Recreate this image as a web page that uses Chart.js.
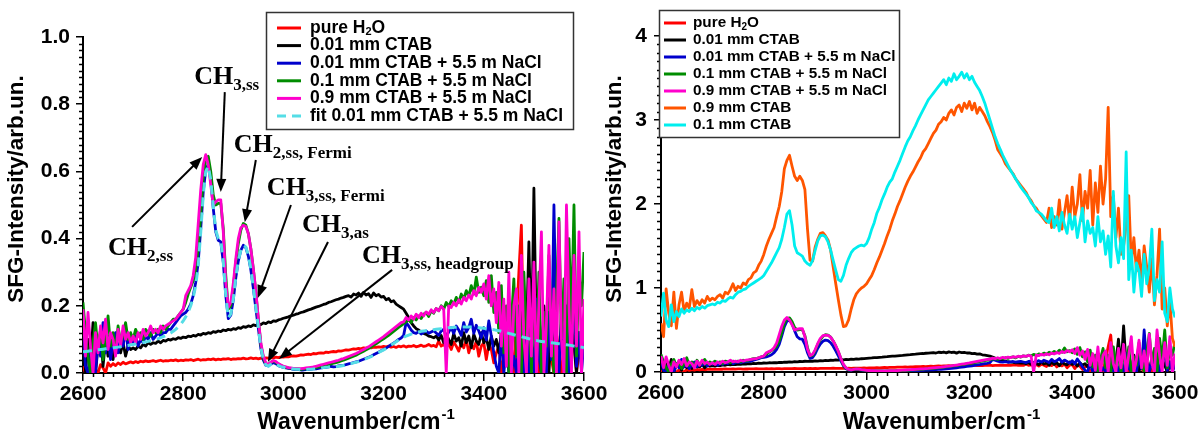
<!DOCTYPE html>
<html><head><meta charset="utf-8">
<script src="https://cdn.jsdelivr.net/npm/chart.js@4/dist/chart.umd.min.js"></script>
<style>
html,body{margin:0;padding:0;background:#fff;width:1202px;height:432px;overflow:hidden;}
#wrapL{position:absolute;left:0;top:0;width:640px;height:432px;}
#wrapR{position:absolute;left:600px;top:0;width:602px;height:432px;}
</style></head><body>
<div id="wrapL"><canvas id="cL" width="640" height="432"></canvas></div>
<div id="wrapR"><canvas id="cR" width="602" height="432"></canvas></div>
<script>
// x grid: wavenumber in cm^-1, step 5
const wavenumbers = [];
for (let w = 2600; w <= 3600; w += 5) wavenumbers.push(w);

const pureH2O = [
0.02,0.0,0.0,0.03,0.0,0.01,0.0,0.025,0.015,0.0,0.03,0.02,0.028,0.022,0.03,0.025,0.032,0.027,0.03,0.033,
0.03,0.034,0.031,0.035,0.033,0.036,0.034,0.035,0.037,0.034,0.036,0.038,0.035,0.037,0.036,0.038,0.037,0.039,0.036,0.038,
0.037,0.039,0.038,0.04,0.037,0.039,0.041,0.038,0.04,0.039,0.041,0.04,0.042,0.039,0.041,0.04,0.042,0.041,0.043,0.04,
0.042,0.041,0.043,0.042,0.044,0.042,0.043,0.045,0.043,0.044,0.042,0.044,0.043,0.045,0.044,0.046,0.045,0.047,0.046,0.048,
0.047,0.049,0.048,0.05,0.051,0.05,0.052,0.054,0.053,0.055,0.056,0.055,0.058,0.057,0.059,0.06,0.059,0.062,0.061,0.063,
0.064,0.063,0.066,0.065,0.067,0.069,0.068,0.07,0.072,0.071,0.073,0.072,0.075,0.074,0.076,0.075,0.077,0.076,0.078,0.077,
0.079,0.078,0.08,0.077,0.079,0.076,0.08,0.078,0.081,0.077,0.08,0.079,0.082,0.078,0.08,0.083,0.079,0.081,0.085,0.08,
0.082,0.078,0.095,0.08,0.085,0.075,0.088,0.07,0.092,0.08,0.065,0.09,0.075,0.1,0.06,0.085,0.072,0.095,0.05,0.08,
0.09,0.04,0.085,0.07,0.03,0.06,0.08,0.0,0.05,0.10,0.02,0.08,0.0,0.15,0.30,0.44,0.05,0.10,0.0,0.08,
0.05,0.12,0.0,0.06,0.10,0.0,0.08,0.04,0.0,0.12,0.05,0.0,0.09,0.03,0.0,0.07,0.11,0.0,0.06,0.04,
0.05];

const ctab001 = [
0.16,0.0,0.10,0.03,0.15,0.0,0.08,0.12,0.02,0.10,0.05,0.09,0.04,0.11,0.07,0.06,0.09,0.05,0.08,0.07,
0.075,0.07,0.08,0.075,0.085,0.08,0.09,0.085,0.09,0.088,0.095,0.09,0.097,0.095,0.10,0.098,0.102,0.10,0.105,0.103,
0.107,0.105,0.11,0.108,0.112,0.11,0.115,0.113,0.118,0.116,0.12,0.118,0.123,0.121,0.125,0.123,0.128,0.126,0.13,0.128,
0.132,0.13,0.135,0.133,0.138,0.136,0.14,0.138,0.143,0.141,0.146,0.144,0.149,0.147,0.152,0.15,0.155,0.154,0.158,0.16,
0.163,0.165,0.167,0.17,0.172,0.175,0.177,0.18,0.182,0.185,0.188,0.19,0.193,0.196,0.198,0.201,0.204,0.206,0.21,0.212,
0.215,0.218,0.22,0.223,0.225,0.228,0.23,0.226,0.235,0.232,0.238,0.228,0.24,0.232,0.236,0.225,0.238,0.23,0.234,0.226,
0.228,0.218,0.222,0.212,0.215,0.205,0.2,0.195,0.19,0.178,0.165,0.15,0.14,0.132,0.128,0.122,0.118,0.115,0.11,0.108,
0.105,0.11,0.098,0.112,0.09,0.115,0.1,0.085,0.118,0.095,0.105,0.08,0.12,0.09,0.11,0.075,0.115,0.095,0.085,0.12,
0.09,0.105,0.07,0.11,0.08,0.1,0.06,0.12,0.09,0.05,0.11,0.08,0.25,0.10,0.05,0.20,0.0,0.10,0.39,0.05,
0.55,0.08,0.15,0.0,0.20,0.10,0.0,0.15,0.05,0.12,0.0,0.18,0.06,0.10,0.0,0.14,0.08,0.0,0.12,0.05,
0.1];

const ctab001NaCl = [
0.13,0.02,0.0,0.07,0.04,0.0,0.10,0.05,0.15,0.06,0.11,0.04,0.09,0.12,0.06,0.10,0.08,0.13,0.07,0.11,
0.09,0.11,0.08,0.10,0.09,0.11,0.10,0.12,0.10,0.11,0.12,0.11,0.12,0.12,0.13,0.13,0.14,0.15,0.16,0.17,
0.175,0.18,0.19,0.205,0.23,0.27,0.33,0.43,0.54,0.605,0.620,0.575,0.49,0.42,0.395,0.39,0.33,0.23,0.162,0.172,
0.218,0.283,0.333,0.365,0.380,0.373,0.348,0.307,0.252,0.192,0.133,0.073,0.038,0.023,0.021,0.027,0.031,0.028,0.022,0.019,
0.017,0.015,0.014,0.013,0.011,0.010,0.010,0.009,0.009,0.010,0.010,0.011,0.012,0.012,0.014,0.015,0.016,0.017,0.018,0.020,
0.018,0.019,0.021,0.022,0.023,0.025,0.027,0.029,0.031,0.033,0.035,0.038,0.041,0.044,0.047,0.050,0.054,0.058,0.062,0.066,
0.070,0.074,0.079,0.084,0.089,0.094,0.100,0.104,0.112,0.150,0.140,0.128,0.120,0.118,0.123,0.116,0.121,0.125,0.118,0.122,
0.126,0.119,0.112,0.125,0.130,0.108,0.122,0.135,0.118,0.140,0.128,0.112,0.150,0.122,0.135,0.160,0.118,0.142,0.125,0.105,
0.135,0.098,0.155,0.110,0.060,0.02,0.0,0.12,0.0,0.08,0.0,0.0,0.05,0.0,0.10,0.03,0.0,0.15,0.0,0.09,
0.0,0.22,0.05,0.0,0.12,0.0,0.18,0.04,0.50,0.10,0.0,0.15,0.06,0.20,0.0,0.08,0.25,0.02,0.12,0.0,
0.1];

const ctab01NaCl = [
0.21,0.12,0.05,0.0,0.09,0.15,0.07,0.13,0.04,0.10,0.17,0.08,0.12,0.06,0.14,0.09,0.11,0.15,0.10,0.12,
0.10,0.13,0.11,0.12,0.10,0.13,0.12,0.11,0.13,0.12,0.13,0.12,0.14,0.13,0.14,0.15,0.16,0.16,0.17,0.18,
0.19,0.21,0.235,0.255,0.275,0.31,0.37,0.47,0.58,0.635,0.645,0.60,0.53,0.50,0.505,0.505,0.43,0.29,0.19,0.20,
0.255,0.33,0.385,0.425,0.445,0.44,0.415,0.37,0.31,0.24,0.16,0.085,0.045,0.027,0.025,0.032,0.036,0.032,0.026,0.022,
0.019,0.017,0.015,0.014,0.013,0.012,0.012,0.011,0.012,0.012,0.013,0.014,0.015,0.016,0.018,0.019,0.021,0.023,0.025,0.027,
0.029,0.031,0.033,0.036,0.038,0.041,0.044,0.047,0.050,0.053,0.057,0.061,0.065,0.069,0.073,0.077,0.082,0.087,0.092,0.097,
0.102,0.107,0.112,0.118,0.124,0.130,0.136,0.141,0.147,0.152,0.158,0.150,0.165,0.158,0.170,0.162,0.175,0.180,0.168,0.185,
0.178,0.192,0.185,0.200,0.190,0.210,0.198,0.215,0.205,0.225,0.210,0.235,0.220,0.245,0.228,0.260,0.235,0.285,0.240,0.255,
0.230,0.275,0.210,0.290,0.180,0.240,0.120,0.260,0.060,0.200,0.0,0.150,0.280,0.050,0.200,0.0,0.300,0.100,0.180,0.0,
0.250,0.050,0.300,0.0,0.180,0.080,0.350,0.120,0.0,0.220,0.460,0.100,0.280,0.0,0.400,0.150,0.500,0.050,0.300,0.200,
0.36];

const ctab09NaCl = [
0.19,0.05,0.18,0.08,0.0,0.12,0.06,0.14,0.09,0.16,0.07,0.12,0.10,0.05,0.13,0.08,0.14,0.10,0.12,0.09,
0.11,0.09,0.12,0.10,0.13,0.11,0.12,0.14,0.12,0.13,0.12,0.14,0.13,0.14,0.145,0.15,0.155,0.16,0.17,0.18,
0.19,0.23,0.245,0.26,0.29,0.345,0.445,0.545,0.62,0.65,0.62,0.56,0.50,0.51,0.515,0.515,0.42,0.27,0.195,0.21,
0.267,0.34,0.40,0.432,0.44,0.436,0.415,0.37,0.31,0.245,0.16,0.09,0.05,0.03,0.025,0.032,0.037,0.034,0.028,0.024,
0.02,0.018,0.016,0.015,0.014,0.013,0.013,0.013,0.014,0.015,0.016,0.017,0.018,0.020,0.022,0.024,0.026,0.028,0.030,0.032,
0.034,0.036,0.038,0.041,0.043,0.046,0.049,0.052,0.055,0.058,0.062,0.066,0.070,0.074,0.078,0.083,0.088,0.093,0.098,0.103,
0.108,0.114,0.120,0.126,0.132,0.138,0.144,0.150,0.152,0.165,0.158,0.170,0.160,0.175,0.165,0.178,0.170,0.182,0.175,0.188,
0.180,0.192,0.185,0.198,0.190,0.0,0.200,0.195,0.210,0.200,0.218,0.205,0.225,0.215,0.232,0.220,0.245,0.230,0.255,0.240,
0.265,0.220,0.290,0.200,0.250,0.150,0.270,0.080,0.220,0.020,0.300,0.0,0.200,0.250,0.0,0.350,0.100,0.0,0.280,0.050,
0.330,0.0,0.200,0.420,0.0,0.150,0.380,0.050,0.250,0.0,0.450,0.100,0.0,0.500,0.200,0.0,0.350,0.080,0.420,0.0,
0.22];

const fit001NaCl = [
0.063,0.064,0.065,0.066,0.067,0.068,0.069,0.070,0.071,0.072,0.073,0.074,0.075,0.076,0.077,0.078,0.080,0.081,0.082,0.084,
0.085,0.086,0.088,0.089,0.091,0.092,0.094,0.096,0.098,0.100,0.102,0.105,0.108,0.111,0.115,0.119,0.124,0.130,0.137,0.145,
0.155,0.167,0.182,0.200,0.225,0.260,0.320,0.420,0.530,0.600,0.615,0.575,0.495,0.425,0.400,0.395,0.330,0.230,0.165,0.175,
0.220,0.285,0.335,0.365,0.380,0.375,0.350,0.310,0.255,0.195,0.135,0.075,0.040,0.024,0.020,0.026,0.030,0.027,0.022,0.019,
0.017,0.015,0.014,0.013,0.012,0.011,0.011,0.010,0.010,0.010,0.011,0.011,0.012,0.013,0.014,0.015,0.016,0.017,0.018,0.020,
0.018,0.019,0.020,0.021,0.022,0.024,0.026,0.028,0.030,0.032,0.034,0.037,0.040,0.043,0.046,0.049,0.053,0.057,0.061,0.065,
0.069,0.073,0.078,0.083,0.088,0.093,0.098,0.102,0.106,0.110,0.113,0.116,0.118,0.120,0.122,0.124,0.125,0.126,0.127,0.128,
0.129,0.130,0.131,0.132,0.133,0.134,0.135,0.135,0.136,0.136,0.137,0.137,0.137,0.137,0.137,0.137,0.136,0.136,0.135,0.134,
0.133,0.132,0.131,0.130,0.129,0.127,0.126,0.124,0.122,0.120,0.118,0.116,0.114,0.112,0.110,0.108,0.106,0.104,0.102,0.100,
0.098,0.097,0.095,0.094,0.093,0.092,0.091,0.090,0.089,0.088,0.087,0.086,0.085,0.084,0.083,0.082,0.080,0.079,0.078,0.077,
0.075];

const ctab09 = [
0.58,0.42,0.99,0.70,0.55,0.95,0.52,0.80,0.95,0.72,0.82,0.76,0.98,0.78,0.85,0.80,0.86,0.82,0.90,0.85,
0.88,0.86,0.90,0.92,0.88,0.95,0.93,0.98,1.05,0.97,1.02,1.00,1.06,1.04,1.10,1.12,1.18,1.20,1.27,1.32,
1.40,1.50,1.58,1.65,1.72,1.85,1.97,2.15,2.42,2.52,2.58,2.45,2.33,2.28,2.33,2.28,2.17,1.70,1.33,1.32,
1.49,1.58,1.65,1.66,1.62,1.57,1.45,1.25,1.05,0.86,0.68,0.54,0.55,0.62,0.75,0.86,0.93,0.97,1.00,1.02,
1.05,1.10,1.15,1.22,1.30,1.37,1.45,1.53,1.62,1.70,1.80,1.88,1.97,2.04,2.12,2.20,2.27,2.33,2.38,2.44,
2.50,2.55,2.62,2.66,2.72,2.78,2.84,2.88,2.95,2.98,3.03,3.00,3.08,3.12,3.06,3.15,3.18,3.10,3.20,3.14,
3.22,3.12,3.20,3.08,3.15,3.10,3.05,2.98,2.92,2.85,2.76,2.65,2.60,2.55,2.48,2.44,2.40,2.36,2.30,2.26,
2.22,2.18,2.14,2.08,2.04,1.98,1.95,1.90,1.86,1.82,1.78,1.95,1.72,1.85,1.75,2.05,1.70,1.90,2.10,1.78,
2.20,1.85,2.00,2.35,1.80,2.15,1.95,2.40,1.75,2.25,1.90,2.45,2.00,2.30,3.15,1.85,2.10,1.60,1.95,1.40,
1.50,1.75,2.10,1.30,1.60,1.20,1.45,1.05,1.50,1.25,0.95,1.35,0.80,1.15,1.70,0.75,1.00,0.55,0.85,0.40,
0.30];

const ctab01 = [
0.66,0.94,0.62,0.54,0.80,0.60,0.72,0.66,0.75,0.70,0.74,0.72,0.76,0.73,0.77,0.75,0.78,0.76,0.79,0.80,
0.81,0.80,0.83,0.82,0.85,0.84,0.87,0.89,0.88,0.92,0.95,0.96,0.98,0.99,1.02,1.04,1.06,1.08,1.10,1.12,
1.15,1.20,1.25,1.30,1.36,1.42,1.48,1.58,1.72,1.88,1.92,1.75,1.50,1.42,1.40,1.38,1.32,1.29,1.27,1.33,
1.45,1.56,1.62,1.63,1.61,1.55,1.45,1.33,1.21,1.10,1.08,1.15,1.27,1.35,1.42,1.46,1.48,1.50,1.51,1.50,
1.53,1.60,1.70,1.78,1.89,1.96,2.05,2.12,2.20,2.26,2.30,2.38,2.45,2.52,2.60,2.68,2.75,2.80,2.87,2.93,
3.00,3.06,3.12,3.18,3.24,3.28,3.32,3.36,3.40,3.44,3.48,3.42,3.50,3.46,3.55,3.48,3.52,3.57,3.50,3.55,
3.48,3.52,3.45,3.40,3.35,3.28,3.20,3.10,3.00,2.90,2.80,2.72,2.65,2.58,2.52,2.46,2.40,2.35,2.30,2.25,
2.20,2.16,2.12,2.08,2.02,1.98,1.92,1.90,1.88,1.84,1.80,1.78,1.95,1.72,1.85,1.68,1.90,1.75,1.65,1.88,
1.70,1.85,1.60,1.78,1.95,1.55,1.80,1.65,1.72,1.50,1.85,1.55,1.68,1.40,1.62,1.25,2.15,1.50,1.30,1.60,
1.35,2.62,1.10,1.45,0.95,1.30,1.20,0.90,1.40,1.05,1.25,1.70,0.85,1.10,0.95,1.55,0.70,0.60,1.00,0.75,
0.65];

const labelsLeft = ['pure H_{2}O','0.01 mm CTAB','0.01 mm CTAB + 5.5 m NaCl','0.1 mm CTAB + 5.5 m NaCl','0.9 mm CTAB + 5.5 m NaCl','fit 0.01 mm CTAB + 5.5 m NaCl'];
const labelsRight = ['pure H_{2}O','0.01 mm CTAB','0.01 mm CTAB + 5.5 m NaCl','0.1 mm CTAB + 5.5 m NaCl','0.9 mm CTAB + 5.5 m NaCl','0.9 mm CTAB','0.1 mm CTAB'];
const xTicksMajor = [2600, 2800, 3000, 3200, 3400, 3600];

const COL = {red:'#ff0000', black:'#000000', blue:'#0000cc', green:'#008c00', magenta:'#ff00cc', fit:'#55dde6', orange:'#ff5500', cyan:'#00eeee'};

const annotations = [
  {main:'CH', sub:'2,ss', text:[2650,0.351], tail:[2698,0.435], head:[2838,0.643]},
  {main:'CH', sub:'3,ss', text:[2822,0.86], tail:[2883,0.836], head:[2875,0.539]},
  {main:'CH', sub:'2,ss, Fermi', text:[2901,0.658], tail:[2945,0.634], head:[2923,0.449]},
  {main:'CH', sub:'3,ss, Fermi', text:[2967,0.53], tail:[3015,0.50], head:[2949,0.223]},
  {main:'CH', sub:'3,as', text:[3037,0.42], tail:[3089,0.39], head:[2969,0.033]},
  {main:'CH', sub:'3,ss, headgroup', text:[3157,0.327], tail:[3217,0.307], head:[2991,0.042]}
];

function pts(arr){ return wavenumbers.map((w,i)=>({x:w, y:arr[i]})); }
function ds(label, arr, color, order, extra){
  return Object.assign({label, data:pts(arr), borderColor:color, backgroundColor:color, borderWidth:2.8,
    pointRadius:0, fill:false, tension:0, order, borderJoinStyle:'round', borderCapStyle:'butt'}, extra||{});
}

function drawRich(ctx, x, y, text, size, subSize, fam, subDy){
  const re = /_\{([^}]*)\}/g; let last=0, m, cx=x;
  const segs=[];
  while((m=re.exec(text))){ if(m.index>last) segs.push({t:text.slice(last,m.index),s:false}); segs.push({t:m[1],s:true}); last=re.lastIndex; }
  if(last<text.length) segs.push({t:text.slice(last),s:false});
  for(const s of segs){
    ctx.font = 'bold '+(s.s?subSize:size)+'px '+fam;
    ctx.fillText(s.t, cx, y + (s.s?subDy:0));
    cx += ctx.measureText(s.t).width;
  }
  return cx;
}

const decor = {
  id:'decor',
  afterDraw(chart, args, o){
    const ctx = chart.ctx, xs = chart.scales.x, ys = chart.scales.y, a = chart.chartArea;
    ctx.save();
    ctx.strokeStyle = '#000'; ctx.lineWidth = 1.5;
    for (let v = 2600; v <= 3600; v += 20) {
      if (v % 200 === 0) continue;
      const px = Math.round(xs.getPixelForValue(v)) + 0.5;
      ctx.beginPath(); ctx.moveTo(px, a.bottom); ctx.lineTo(px, a.bottom + o.xMinorLen); ctx.stroke();
    }
    const nMinor = Math.round(o.ymax / o.yminor);
    for (let k = 0; k <= nMinor; k++) {
      if (k % o.yMinorPerMajor === 0) continue;
      const py = Math.round(ys.getPixelForValue(k * o.yminor)) + 0.5;
      ctx.beginPath(); ctx.moveTo(a.left, py); ctx.lineTo(a.left - o.yMinorLen, py); ctx.stroke();
    }
    // axis titles
    ctx.fillStyle = '#000';
    ctx.textAlign = 'left';
    ctx.textBaseline = 'alphabetic';
    ctx.font = 'bold 23px "Liberation Sans"';
    const mainT = 'Wavenumber/cm';
    const w1 = ctx.measureText(mainT).width;
    ctx.font = 'bold 15px "Liberation Sans"';
    const w2 = ctx.measureText('-1').width;
    const cx = (a.left + a.right) / 2 + o.xTitleShift;
    const x0 = cx - (w1 + w2) / 2;
    ctx.font = 'bold 23px "Liberation Sans"';
    ctx.fillText(mainT, x0, o.xTitleBase);
    ctx.font = 'bold 15px "Liberation Sans"';
    ctx.fillText('-1', x0 + w1 + 1, o.xTitleBase - 10);
    ctx.save();
    ctx.translate(o.yTitleX, o.yTitleY);
    ctx.rotate(-Math.PI / 2);
    ctx.font = 'bold 22.5px "Liberation Sans"';
    ctx.textAlign = 'center'; ctx.textBaseline = 'middle';
    ctx.fillText('SFG-Intensity/arb.un.', 0, 0);
    ctx.restore();
    // annotations
    if (o.annotations) {
      for (const an of o.annotations) {
        const tx = xs.getPixelForValue(an.text[0]), ty = ys.getPixelForValue(an.text[1]);
        ctx.fillStyle = '#000'; ctx.textAlign = 'left'; ctx.textBaseline = 'alphabetic';
        ctx.font = 'bold 26px "Liberation Serif"';
        ctx.fillText(an.main, tx, ty);
        const wm = ctx.measureText(an.main).width;
        ctx.font = 'bold 17px "Liberation Serif"';
        ctx.fillText(an.sub, tx + wm, ty + 6);
        const x1 = xs.getPixelForValue(an.tail[0]), y1 = ys.getPixelForValue(an.tail[1]);
        const x2 = xs.getPixelForValue(an.head[0]), y2 = ys.getPixelForValue(an.head[1]);
        const ang = Math.atan2(y2 - y1, x2 - x1);
        const L = 13, W = 5;
        ctx.strokeStyle = '#000'; ctx.lineWidth = 2;
        ctx.beginPath(); ctx.moveTo(x1, y1);
        ctx.lineTo(x2 - Math.cos(ang) * (L - 2), y2 - Math.sin(ang) * (L - 2)); ctx.stroke();
        ctx.beginPath();
        ctx.moveTo(x2, y2);
        ctx.lineTo(x2 - Math.cos(ang) * L - Math.sin(ang) * W, y2 - Math.sin(ang) * L + Math.cos(ang) * W);
        ctx.lineTo(x2 - Math.cos(ang) * L + Math.sin(ang) * W, y2 - Math.sin(ang) * L - Math.cos(ang) * W);
        ctx.closePath(); ctx.fill();
      }
    }
    // legend
    const lg = o.legend;
    ctx.fillStyle = '#fff';
    ctx.fillRect(lg.x, lg.y, lg.w, lg.h);
    ctx.strokeStyle = '#333'; ctx.lineWidth = 1.5;
    ctx.strokeRect(lg.x + 0.5, lg.y + 0.5, lg.w, lg.h);
    const items = chart.data.datasets.slice().sort((p, q) => p.legendIndex - q.legendIndex);
    items.forEach((d, i) => {
      const yy = lg.y + lg.row0 + i * lg.step;
      ctx.strokeStyle = d.borderColor; ctx.lineWidth = 3;
      ctx.setLineDash(d.borderDash || []);
      ctx.beginPath(); ctx.moveTo(lg.x + lg.s0, yy); ctx.lineTo(lg.x + lg.s1, yy); ctx.stroke();
      ctx.setLineDash([]);
      ctx.fillStyle = '#000'; ctx.textAlign = 'left'; ctx.textBaseline = 'middle';
      drawRich(ctx, lg.x + lg.tx, yy, d.label, lg.font, Math.round(lg.font * 0.65), '"Liberation Sans"', lg.font * 0.25);
    });
    ctx.restore();
  }
};

function makeOptions(c) {
  return {
    responsive: false, animation: false, devicePixelRatio: 1,
    layout: {padding: {left: 0, right: c.padRight, top: c.padTop, bottom: 0}},
    plugins: {legend: {display: false}, tooltip: {enabled: false}, decor: c.decor},
    scales: {
      x: {type: 'linear', min: 2600, max: 3600,
        afterBuildTicks: s => { s.ticks = xTicksMajor.map(v => ({value: v})); },
        ticks: {color: '#000', font: {family: 'Liberation Sans', weight: 'bold', size: 21}, padding: 1, maxRotation: 0, autoSkip: false,
          callback: v => String(v)},
        grid: {display: true, drawOnChartArea: false, drawTicks: true, tickLength: 8, color: '#000', lineWidth: 1.5},
        border: {display: true, color: '#000', width: 2},
        afterFit: s => { s.height = c.xH; }
      },
      y: {min: 0, max: c.ymax,
        ticks: {stepSize: c.ystep, color: '#000', font: {family: 'Liberation Sans', weight: 'bold', size: 21}, padding: c.yPad,
          callback: v => c.yDec ? Number(v).toFixed(c.yDec) : String(Math.round(v))},
        grid: {display: true, drawOnChartArea: false, drawTicks: true, tickLength: 7, color: '#000', lineWidth: 1.5},
        border: {display: true, color: '#000', width: 2},
        afterFit: s => { s.width = c.yW; }
      }
    }
  };
}

const leftDatasets = [
  ds(labelsLeft[0], pureH2O, COL.red, 6, {legendIndex: 0}),
  ds(labelsLeft[1], ctab001, COL.black, 5, {legendIndex: 1}),
  ds(labelsLeft[2], ctab001NaCl, COL.blue, 4, {legendIndex: 2}),
  ds(labelsLeft[3], ctab01NaCl, COL.green, 3, {legendIndex: 3}),
  ds(labelsLeft[4], ctab09NaCl, COL.magenta, 2, {legendIndex: 4}),
  ds(labelsLeft[5], fit001NaCl, COL.fit, 1, {legendIndex: 5, borderDash: [9, 6], borderWidth: 3})
];

new Chart(document.getElementById('cL'), {
  type: 'line',
  data: {datasets: leftDatasets},
  plugins: [decor],
  options: makeOptions({padRight: 56, padTop: 37, xH: 59, yW: 83, ymax: 1, ystep: 0.2, yDec: 1, yPad: 6,
    decor: {xMinorLen: 4, yMinorLen: 4, ymax: 1, yminor: 0.02, yMinorPerMajor: 10,
      xTitleShift: 22, xTitleBase: 429, yTitleX: 17, yTitleY: 189, annotations: annotations,
      legend: {x: 266, y: 12, w: 307, h: 117, row0: 16, step: 17.6, s0: 11, s1: 35, tx: 44, font: 17.5}}})
});

const rightDatasets = [
  ds(labelsRight[0], pureH2O, COL.red, 7, {legendIndex: 0}),
  ds(labelsRight[1], ctab001, COL.black, 6, {legendIndex: 1}),
  ds(labelsRight[2], ctab001NaCl, COL.blue, 5, {legendIndex: 2}),
  ds(labelsRight[3], ctab01NaCl, COL.green, 4, {legendIndex: 3}),
  ds(labelsRight[4], ctab09NaCl, COL.magenta, 3, {legendIndex: 4}),
  ds(labelsRight[5], ctab09, COL.orange, 2, {legendIndex: 5}),
  ds(labelsRight[6], ctab01, COL.cyan, 1, {legendIndex: 6})
];

new Chart(document.getElementById('cR'), {
  type: 'line',
  data: {datasets: rightDatasets},
  plugins: [decor],
  options: makeOptions({padRight: 27, padTop: 36, xH: 60, yW: 61, ymax: 4, ystep: 1, yDec: 0, yPad: 7,
    decor: {xMinorLen: 4, yMinorLen: 4, ymax: 4, yminor: 0.1, yMinorPerMajor: 10,
      xTitleShift: 23, xTitleBase: 429, yTitleX: 15, yTitleY: 189, annotations: null,
      legend: {x: 59, y: 10, w: 240, h: 127, row0: 13, step: 17, s0: 5, s1: 27, tx: 34, font: 15.3}}})
});
</script>
</body></html>
